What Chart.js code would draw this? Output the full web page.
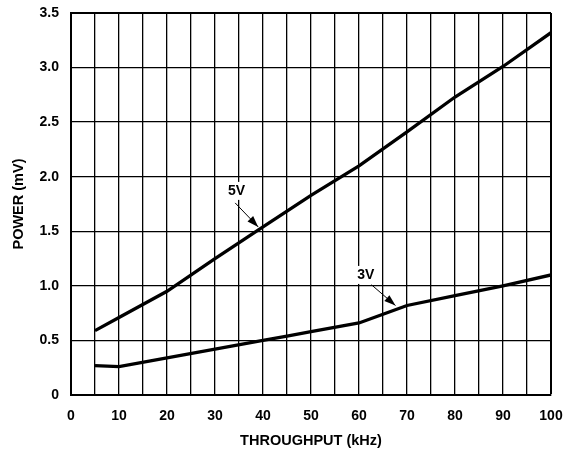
<!DOCTYPE html>
<html>
<head>
<meta charset="utf-8">
<script src="https://cdn.jsdelivr.net/npm/chart.js@4.4.0/dist/chart.umd.min.js"></script>
<style>
  html, body { margin: 0; padding: 0; background: #fff; }
  #wrap { width: 570px; height: 450px; }
</style>
</head>
<body>
<div id="wrap"><canvas id="powerChart"></canvas></div>
<script>
// Data
const throughput = [5, 10, 20, 30, 40, 50, 60, 70, 80, 90, 100];
const power5V = [0.59, 0.71, 0.95, 1.25, 1.54, 1.83, 2.10, 2.41, 2.73, 3.01, 3.32];
const throughput3V = [5, 10, 20, 30, 40, 45, 50, 60, 65, 70, 80, 90, 100];
const power3V = [0.27, 0.26, 0.34, 0.42, 0.50, 0.54, 0.58, 0.66, 0.74, 0.82, 0.91, 1.00, 1.10];
const xTicks = [0, 10, 20, 30, 40, 50, 60, 70, 80, 90, 100];
const yTicks = [0, 0.5, 1.0, 1.5, 2.0, 2.5, 3.0, 3.5];

// Curve labels with arrows (data units)
const callouts = [
    { text: '5V', at: [34.5, 1.87], from: [34.2, 1.76], to: [39.0, 1.54] },
    { text: '3V', at: [61.4, 1.10], from: [62.6, 1.01], to: [67.6, 0.82] }
];

function toPoints(xs, ys) {
    return xs.map(function(x, i) { return { x: x, y: ys[i] }; });
}

const calloutPlugin = {
    id: 'callouts',
    afterDatasetsDraw: function(chart) {
        const ctx = chart.ctx;
        const xs = chart.scales.x, ys = chart.scales.y;
        ctx.save();
        ctx.font = 'bold 14px "Liberation Sans", Arial, sans-serif';
        ctx.textAlign = 'center';
        ctx.textBaseline = 'middle';
        callouts.forEach(function(c) {
            const lx = xs.getPixelForValue(c.at[0]);
            const ly = ys.getPixelForValue(c.at[1]);
            const w = ctx.measureText(c.text).width;
            ctx.fillStyle = '#fff';
            ctx.fillRect(lx - w / 2 - 2, ly - 9, w + 4, 18);
            ctx.fillStyle = '#000';
            ctx.fillText(c.text, lx, ly);

            const x1 = xs.getPixelForValue(c.from[0]), y1 = ys.getPixelForValue(c.from[1]);
            const x2 = xs.getPixelForValue(c.to[0]), y2 = ys.getPixelForValue(c.to[1]);
            const ang = Math.atan2(y2 - y1, x2 - x1);
            ctx.strokeStyle = '#000';
            ctx.lineWidth = 1;
            ctx.beginPath();
            ctx.moveTo(x1, y1);
            ctx.lineTo(x2, y2);
            ctx.stroke();
            ctx.beginPath();
            ctx.moveTo(x2, y2);
            ctx.lineTo(x2 - 12 * Math.cos(ang - 0.33), y2 - 12 * Math.sin(ang - 0.33));
            ctx.lineTo(x2 - 12 * Math.cos(ang + 0.33), y2 - 12 * Math.sin(ang + 0.33));
            ctx.closePath();
            ctx.fillStyle = '#000';
            ctx.fill();
        });
        ctx.restore();
    }
};

document.addEventListener('DOMContentLoaded', function() {
    const ctx = document.getElementById('powerChart');
    const tickFont = { family: '"Liberation Sans", Arial, sans-serif', size: 14, weight: 'bold' };
    const titleFont = { family: '"Liberation Sans", Arial, sans-serif', size: 14.5, weight: 'bold' };

    new Chart(ctx, {
        type: 'line',
        data: {
            datasets: [{
                label: '5V',
                data: toPoints(throughput, power5V),
                borderColor: '#000',
                borderWidth: 3.3,
                pointRadius: 0,
                tension: 0
            }, {
                label: '3V',
                data: toPoints(throughput3V, power3V),
                borderColor: '#000',
                borderWidth: 3.3,
                pointRadius: 0,
                tension: 0
            }]
        },
        options: {
            responsive: true,
            maintainAspectRatio: false,
            animation: false,
            layout: {
                padding: { top: 13, right: 19, left: 0, bottom: 0 }
            },
            plugins: {
                legend: { display: false },
                tooltip: { enabled: false }
            },
            scales: {
                x: {
                    type: 'linear',
                    min: 0,
                    max: 100,
                    afterBuildTicks: function(scale) {
                        const t = [];
                        for (let v = 0; v <= 100; v += 5) t.push({ value: v });
                        scale.ticks = t;
                    },
                    afterFit: function(scale) {
                        scale.height = 55;
                        scale.paddingLeft = 0;
                        scale.paddingRight = 0;
                    },
                    ticks: {
                        color: '#000',
                        font: tickFont,
                        padding: 13,
                        maxRotation: 0,
                        autoSkip: false,
                        callback: function(value) {
                            return xTicks.indexOf(value) >= 0 ? String(value) : '';
                        }
                    },
                    grid: {
                        color: '#000',
                        lineWidth: function(c) { return c.tick && c.tick.value === 100 ? 2 : 1.3; },
                        drawTicks: false
                    },
                    border: { color: '#000', width: 2 },
                    title: {
                        display: true,
                        text: 'THROUGHPUT (kHz)',
                        color: '#000',
                        font: titleFont,
                        padding: { top: 2, bottom: 0 }
                    }
                },
                y: {
                    type: 'linear',
                    min: 0,
                    max: 3.5,
                    afterBuildTicks: function(scale) {
                        scale.ticks = yTicks.map(function(v) { return { value: v }; });
                    },
                    afterFit: function(scale) {
                        scale.width = 71;
                        scale.paddingTop = 0;
                        scale.paddingBottom = 0;
                    },
                    ticks: {
                        color: '#000',
                        font: tickFont,
                        padding: 12,
                        callback: function(value) {
                            return value === 0 ? '0' : value.toFixed(1);
                        }
                    },
                    grid: {
                        color: '#000',
                        lineWidth: function(c) { return c.tick && c.tick.value === 3.5 ? 2 : 1.3; },
                        drawTicks: false
                    },
                    border: { color: '#000', width: 2 },
                    title: {
                        display: true,
                        text: 'POWER (mV)',
                        color: '#000',
                        font: titleFont,
                        padding: { top: 10, bottom: 0 }
                    }
                }
            }
        },
        plugins: [calloutPlugin]
    });
});
</script>
</body>
</html>
